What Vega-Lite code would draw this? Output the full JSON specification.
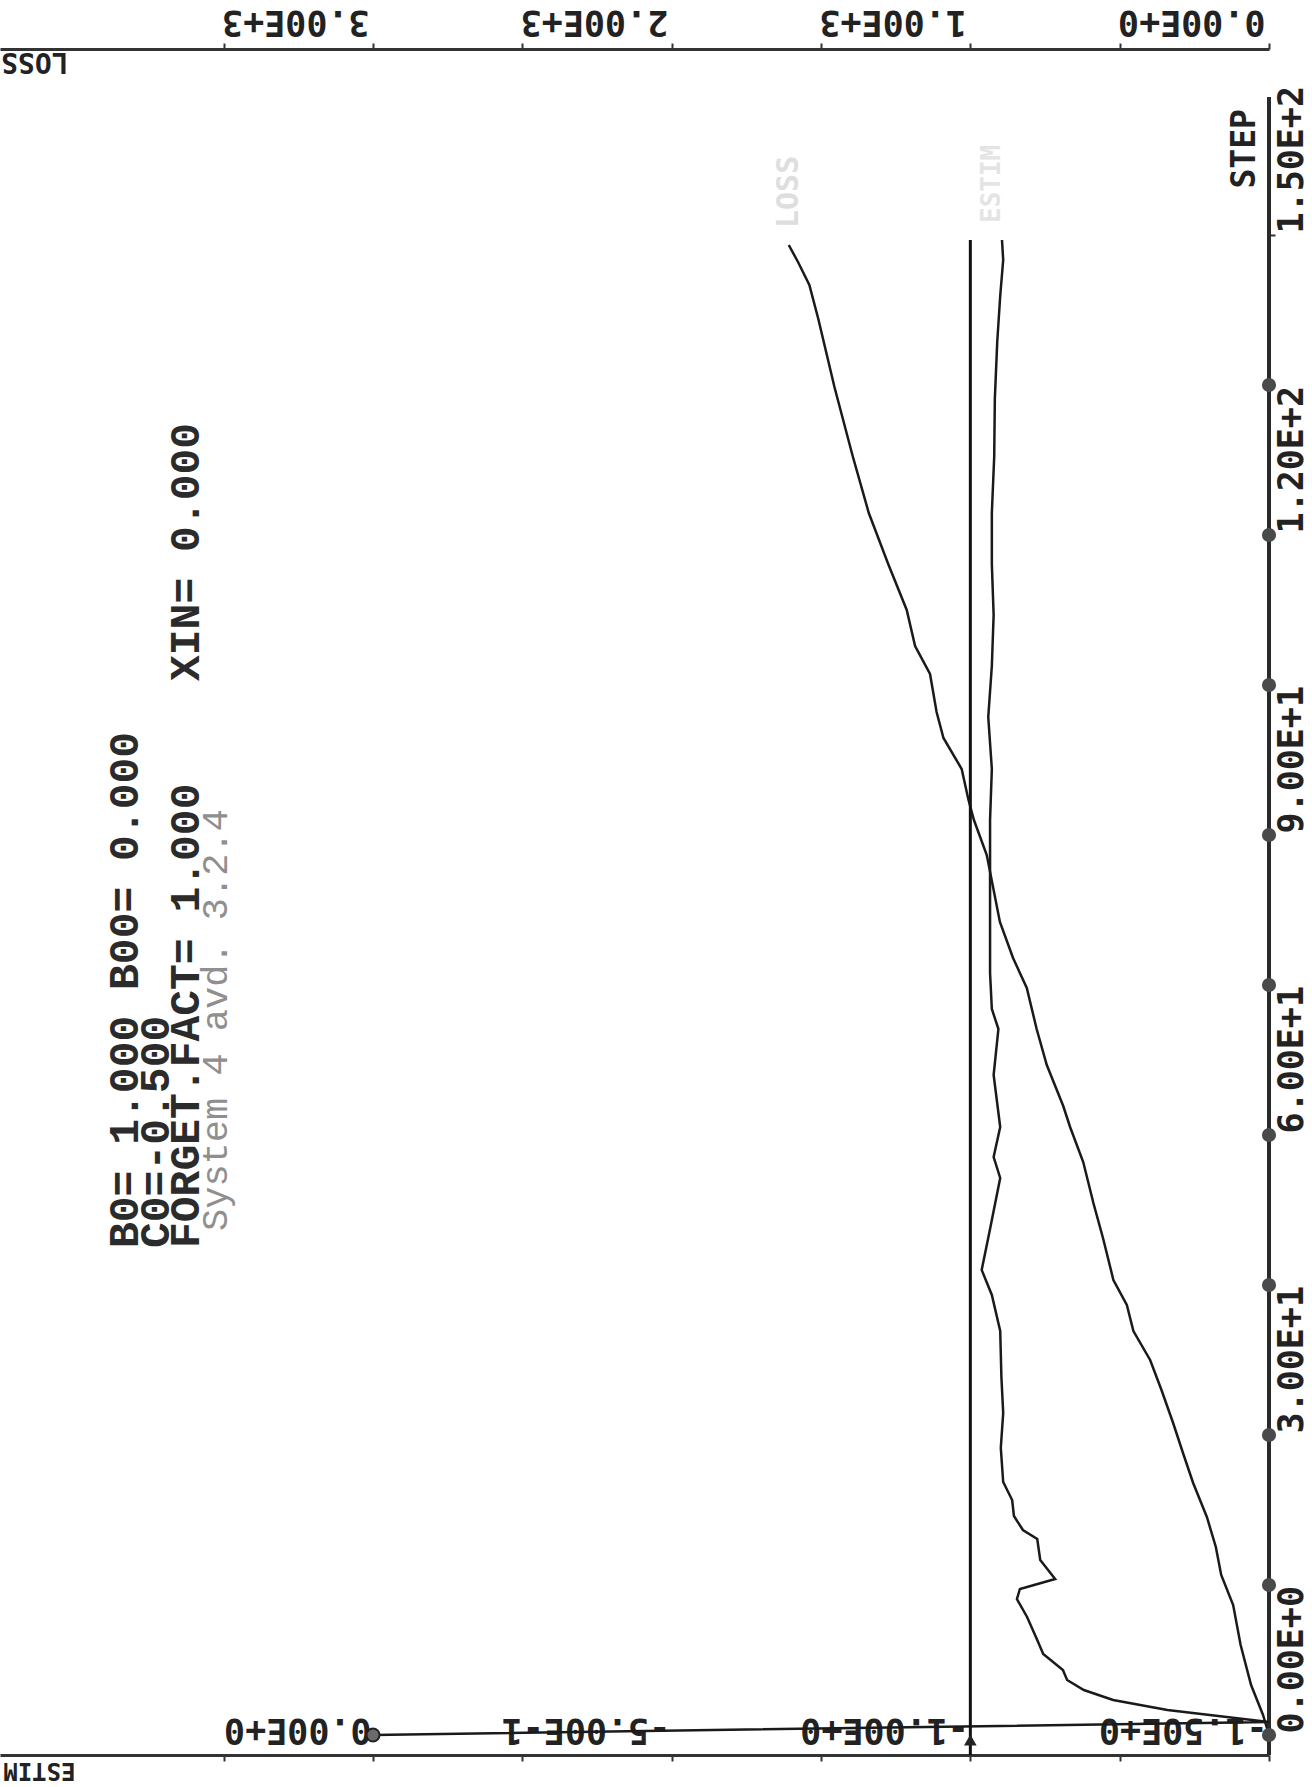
{
  "$schema": "https://vega.github.io/schema/vega-lite/v6.json",
  "width": 1269,
  "height": 1706,
  "autosize": {"type": "none"},
  "padding": {"left": 0, "top": 49, "right": 43, "bottom": 32},
  "background": "white",
  "config": {
    "view": {"stroke": null},
    "axis": {
      "grid": false,
      "labelFont": "DejaVu Sans Mono",
      "labelFontWeight": "bold",
      "labelFontSize": 35,
      "labelColor": "#222222",
      "titleFont": "DejaVu Sans Mono",
      "titleFontWeight": "bold",
      "titleFontSize": 28,
      "titleColor": "#222222",
      "domainColor": "#333333",
      "tickColor": "#333333",
      "labelOverlap": false
    }
  },
  "datasets": {
    "loss": [
      {"step": 0, "loss": 0}, {"step": 2, "loss": 20}, {"step": 5, "loss": 60}, {"step": 9, "loss": 95},
      {"step": 13, "loss": 120}, {"step": 16, "loss": 160}, {"step": 18.8, "loss": 178}, {"step": 21.8, "loss": 208},
      {"step": 25.2, "loss": 254}, {"step": 28.2, "loss": 288}, {"step": 31.2, "loss": 321}, {"step": 34.5, "loss": 360},
      {"step": 37.5, "loss": 398}, {"step": 40.4, "loss": 454}, {"step": 43, "loss": 476}, {"step": 45.5, "loss": 521},
      {"step": 49.6, "loss": 555}, {"step": 53.2, "loss": 588}, {"step": 57.3, "loss": 622}, {"step": 60.8, "loss": 666},
      {"step": 62.9, "loss": 689}, {"step": 67, "loss": 744}, {"step": 70.6, "loss": 778}, {"step": 74.7, "loss": 811},
      {"step": 77.7, "loss": 857}, {"step": 81.3, "loss": 901}, {"step": 88, "loss": 945}, {"step": 91.5, "loss": 988},
      {"step": 93.6, "loss": 1007}, {"step": 96.6, "loss": 1029}, {"step": 99.7, "loss": 1090}, {"step": 102.3, "loss": 1113},
      {"step": 106.1, "loss": 1135}, {"step": 108.9, "loss": 1185}, {"step": 112.5, "loss": 1213}, {"step": 117.1, "loss": 1275},
      {"step": 122.2, "loss": 1340}, {"step": 127.9, "loss": 1394}, {"step": 134.8, "loss": 1455}, {"step": 141.6, "loss": 1509},
      {"step": 145, "loss": 1539}, {"step": 147.3, "loss": 1577}, {"step": 149, "loss": 1608}
    ],
    "estim": [
      {"step": 0, "estim": 0}, {"step": 1.3, "estim": -1.5}, {"step": 2.5, "estim": -1.33}, {"step": 3.5, "estim": -1.239},
      {"step": 4.5, "estim": -1.19}, {"step": 5.5, "estim": -1.162}, {"step": 6.5, "estim": -1.155}, {"step": 8.1, "estim": -1.122},
      {"step": 9.5, "estim": -1.112}, {"step": 11.8, "estim": -1.095}, {"step": 13.6, "estim": -1.078}, {"step": 14.6, "estim": -1.083},
      {"step": 15.6, "estim": -1.142}, {"step": 17.5, "estim": -1.117}, {"step": 19.6, "estim": -1.112}, {"step": 20.5, "estim": -1.088},
      {"step": 21.9, "estim": -1.073}, {"step": 23.5, "estim": -1.07}, {"step": 25.3, "estim": -1.055}, {"step": 28.7, "estim": -1.051},
      {"step": 32.2, "estim": -1.055}, {"step": 35.8, "estim": -1.052}, {"step": 40.4, "estim": -1.05}, {"step": 44, "estim": -1.036},
      {"step": 46.5, "estim": -1.019}, {"step": 50.6, "estim": -1.033}, {"step": 55.7, "estim": -1.05}, {"step": 57.8, "estim": -1.039},
      {"step": 60.8, "estim": -1.05}, {"step": 66, "estim": -1.039}, {"step": 70.6, "estim": -1.047}, {"step": 72.6, "estim": -1.036},
      {"step": 76.2, "estim": -1.033}, {"step": 81.3, "estim": -1.033}, {"step": 86.4, "estim": -1.033}, {"step": 91.5, "estim": -1.033},
      {"step": 96.6, "estim": -1.036}, {"step": 101.8, "estim": -1.03}, {"step": 106.9, "estim": -1.036}, {"step": 112, "estim": -1.039},
      {"step": 117.1, "estim": -1.036}, {"step": 122.2, "estim": -1.036}, {"step": 127.9, "estim": -1.04}, {"step": 133.6, "estim": -1.041},
      {"step": 139.3, "estim": -1.045}, {"step": 143.9, "estim": -1.05}, {"step": 147.5, "estim": -1.055}, {"step": 149.5, "estim": -1.053}
    ],
    "stepdots": [
      {"step": 0}, {"step": 15}, {"step": 30}, {"step": 45}, {"step": 60}, {"step": 75}, {"step": 90}, {"step": 105}, {"step": 120}, {"step": 135}
    ]
  },
  "layer": [
    {
      "data": {"name": "loss"},
      "mark": {"type": "line", "color": "#1a1a1a", "strokeWidth": 2.5},
      "encoding": {
        "x": {
          "field": "loss", "type": "quantitative",
          "scale": {"domain": [0, 4249], "reverse": true, "nice": false, "zero": false},
          "axis": {
            "orient": "top",
            "values": [0, 500, 1000, 1500, 2000, 2500, 3000, 3500],
            "labelExpr": "datum.value % 1000 == 0 ? '\u00a0' + (datum.value / 1000) + '.00E+' + (datum.value == 0 ? '0' : '3') : ''",
            "labelAngle": 180,
            "labelAlign": "left",
            "labelBaseline": "alphabetic",
            "labelOffset": -4,
            "labelPadding": 33,
            "tickSize": 6,
            "tickWidth": 2,
            "domainWidth": 3,
            "title": "LOSS",
            "titleAngle": 180,
            "titleAlign": "left",
            "titleBaseline": "alphabetic",
            "titleX": 68,
            "titleY": 3
          }
        },
        "y": {
          "field": "step", "type": "quantitative",
          "scale": {"domain": [-2, 168.6], "nice": false, "zero": false},
          "axis": {
            "orient": "right",
            "values": [0, 30, 60, 90, 120, 150],
            "labelExpr": "'\u00a0' + (datum.value == 0 ? '0.00E+0' : datum.value == 30 ? '3.00E+1' : datum.value == 60 ? '6.00E+1' : datum.value == 90 ? '9.00E+1' : datum.value == 120 ? '1.20E+2' : '1.50E+2')",
            "labelAngle": 270,
            "labelAlign": "left",
            "labelBaseline": "alphabetic",
            "labelOffset": -2,
            "labelPadding": 27,
            "tickSize": 6,
            "tickWidth": 2,
            "domain": false,
            "title": "STEP",
            "titleFontSize": 33,
            "titleAngle": 270,
            "titleAlign": "left",
            "titleBaseline": "alphabetic",
            "titleX": -15,
            "titleY": 139
          }
        },
        "order": {"field": "step", "type": "quantitative"}
      }
    },
    {
      "data": {"values": [{}]},
      "mark": {"type": "rule", "color": "#2a2a2a", "strokeWidth": 4},
      "encoding": {
        "x": {"datum": 0, "type": "quantitative", "scale": {"domain": [0, 4249], "reverse": true, "nice": false, "zero": false}, "axis": null},
        "y": {"datum": -2, "type": "quantitative"},
        "y2": {"datum": 163.8}
      }
    },
    {
      "data": {"name": "stepdots"},
      "mark": {"type": "point", "filled": true, "color": "#4a4a4a", "size": 200, "opacity": 1},
      "encoding": {
        "x": {"datum": 0, "type": "quantitative", "scale": {"domain": [0, 4249], "reverse": true, "nice": false, "zero": false}, "axis": null},
        "y": {"field": "step", "type": "quantitative"}
      }
    },
    {
      "data": {"values": [{}]},
      "mark": {"type": "text", "text": "B0= 1.000 B00= 0.000", "font": "Liberation Mono", "fontWeight": "bold", "fontSize": 43, "angle": 270, "align": "left", "baseline": "alphabetic", "color": "#2b2b2b"},
      "encoding": {
        "x": {"datum": 3786, "type": "quantitative", "scale": {"domain": [0, 4249], "reverse": true, "nice": false, "zero": false}, "axis": null},
        "y": {"datum": 48.7, "type": "quantitative"}
      }
    },
    {
      "data": {"values": [{}]},
      "mark": {"type": "text", "text": "C0=-0.500", "font": "Liberation Mono", "fontWeight": "bold", "fontSize": 43, "angle": 270, "align": "left", "baseline": "alphabetic", "color": "#2b2b2b"},
      "encoding": {
        "x": {"datum": 3684, "type": "quantitative", "scale": {"domain": [0, 4249], "reverse": true, "nice": false, "zero": false}, "axis": null},
        "y": {"datum": 48.7, "type": "quantitative"}
      }
    },
    {
      "data": {"values": [{}]},
      "mark": {"type": "text", "text": "FORGET.FACT= 1.000", "font": "Liberation Mono", "fontWeight": "bold", "fontSize": 43, "angle": 270, "align": "left", "baseline": "alphabetic", "color": "#2b2b2b"},
      "encoding": {
        "x": {"datum": 3584, "type": "quantitative", "scale": {"domain": [0, 4249], "reverse": true, "nice": false, "zero": false}, "axis": null},
        "y": {"datum": 48.7, "type": "quantitative"}
      }
    },
    {
      "data": {"values": [{}]},
      "mark": {"type": "text", "text": "XIN= 0.000", "font": "Liberation Mono", "fontWeight": "bold", "fontSize": 43, "angle": 270, "align": "left", "baseline": "alphabetic", "color": "#2b2b2b"},
      "encoding": {
        "x": {"datum": 3584, "type": "quantitative", "scale": {"domain": [0, 4249], "reverse": true, "nice": false, "zero": false}, "axis": null},
        "y": {"datum": 105.4, "type": "quantitative"}
      }
    },
    {
      "data": {"values": [{}]},
      "mark": {"type": "text", "text": "System 4 avd. 3.2.4", "font": "Liberation Mono", "fontSize": 37, "angle": 270, "align": "left", "baseline": "alphabetic", "color": "#8f8f8f"},
      "encoding": {
        "x": {"datum": 3489, "type": "quantitative", "scale": {"domain": [0, 4249], "reverse": true, "nice": false, "zero": false}, "axis": null},
        "y": {"datum": 50.4, "type": "quantitative"}
      }
    },
    {
      "data": {"values": [{}]},
      "mark": {"type": "text", "text": "LOSS", "font": "DejaVu Sans Mono", "fontWeight": "bold", "fontSize": 30, "angle": 270, "align": "left", "baseline": "alphabetic", "color": "#dedede"},
      "encoding": {
        "x": {"datum": 1577, "type": "quantitative", "scale": {"domain": [0, 4249], "reverse": true, "nice": false, "zero": false}, "axis": null},
        "y": {"datum": 150.7, "type": "quantitative"}
      }
    },
    {
      "data": {"values": [{}]},
      "mark": {"type": "text", "text": "ESTIM", "font": "DejaVu Sans Mono", "fontWeight": "bold", "fontSize": 26, "angle": 270, "align": "left", "baseline": "alphabetic", "color": "#e4e4e4"},
      "encoding": {
        "x": {"datum": 900, "type": "quantitative", "scale": {"domain": [0, 4249], "reverse": true, "nice": false, "zero": false}, "axis": null},
        "y": {"datum": 151.2, "type": "quantitative"}
      }
    },
    {
      "data": {"name": "estim"},
      "mark": {"type": "line", "color": "#1a1a1a", "strokeWidth": 2.5},
      "encoding": {
        "x": {
          "field": "estim", "type": "quantitative",
          "scale": {"domain": [-1.5, 0.6245], "reverse": true, "nice": false, "zero": false},
          "axis": {
            "orient": "bottom",
            "values": [-1.5, -1.25, -1, -0.75, -0.5, -0.25, 0, 0.25],
            "labelExpr": "datum.value == -1.5 ? '-1.50E+0' : datum.value == -1 ? '-1.00E+0' : datum.value == -0.5 ? '-5.00E-1' : datum.value == 0 ? '\u00a00.00E+0' : ''",
            "labelAngle": 180,
            "labelAlign": "left",
            "labelBaseline": "alphabetic",
            "labelOffset": -2,
            "labelPadding": -43,
            "tickSize": 6,
            "tickWidth": 2,
            "domainWidth": 3,
            "title": "ESTIM",
            "titleFontSize": 24,
            "titleAngle": 180,
            "titleAlign": "left",
            "titleBaseline": "alphabetic",
            "titleX": 75,
            "titleY": 7
          }
        },
        "y": {"field": "step", "type": "quantitative"},
        "order": {"field": "step", "type": "quantitative"}
      }
    },
    {
      "data": {"values": [{}]},
      "mark": {"type": "rule", "color": "#111111", "strokeWidth": 3},
      "encoding": {
        "x": {"datum": -1, "type": "quantitative", "scale": {"domain": [-1.5, 0.6245], "reverse": true, "nice": false, "zero": false}, "axis": null},
        "y": {"datum": -2, "type": "quantitative"},
        "y2": {"datum": 149.5}
      }
    },
    {
      "data": {"values": [{}]},
      "mark": {"type": "point", "filled": true, "color": "#222222", "shape": "triangle-up", "size": 160, "opacity": 1},
      "encoding": {
        "x": {"datum": -1, "type": "quantitative", "scale": {"domain": [-1.5, 0.6245], "reverse": true, "nice": false, "zero": false}, "axis": null},
        "y": {"datum": -0.5, "type": "quantitative"}
      }
    },
    {
      "data": {"values": [{"step": 0, "estim": 0}]},
      "mark": {"type": "point", "filled": true, "color": "#6a6a6a", "stroke": "#222222", "strokeWidth": 2, "size": 170, "opacity": 1},
      "encoding": {
        "x": {"field": "estim", "type": "quantitative", "scale": {"domain": [-1.5, 0.6245], "reverse": true, "nice": false, "zero": false}, "axis": null},
        "y": {"field": "step", "type": "quantitative"}
      }
    }
  ],
  "resolve": {"scale": {"x": "independent"}, "axis": {"x": "independent"}}
}
